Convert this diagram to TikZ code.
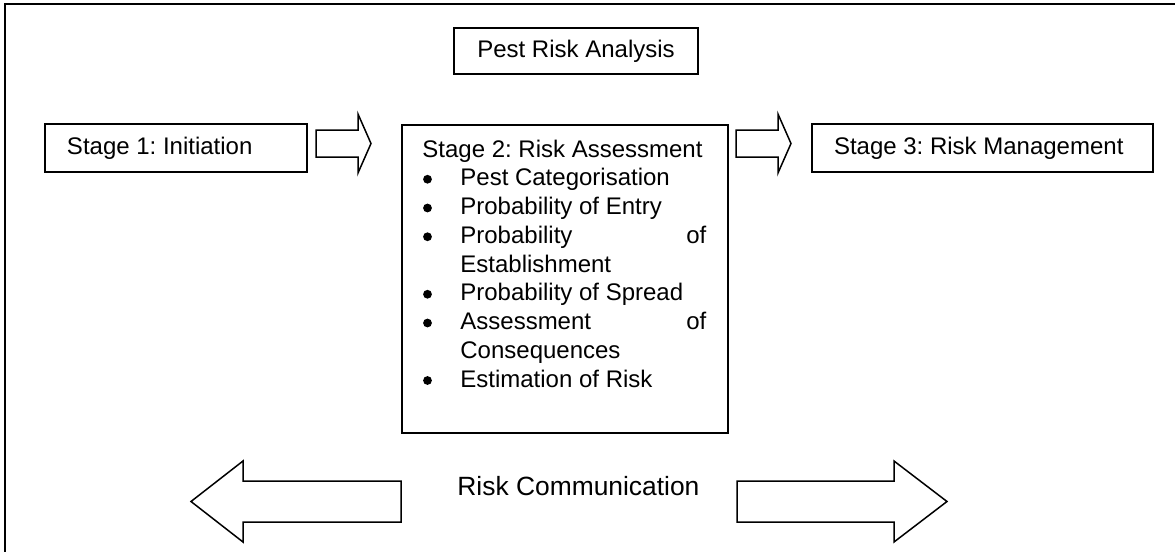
\documentclass[tikz,border=0pt]{standalone}
\usepackage{fontspec}
\setmainfont{Liberation Sans}
\frenchspacing
\begin{document}
\begin{tikzpicture}[x=0.5pt,y=-0.5pt,
  box/.style={draw=black,line width=1pt,inner sep=0pt,font=\fontsize{12}{14.4}\selectfont},
  lbox/.style={box,align=flush left,inner xsep=11pt,minimum height=24pt},
  txt/.style={inner sep=0pt,anchor=base west,font=\fontsize{12}{14.4}\selectfont},
  blockarrow/.style={draw=black,line width=0.75pt,line join=miter,fill=white},
  frame/.style={draw=black,line width=1.2pt}]
\useasboundingbox (0,0) rectangle (1175,552);
% outer frame (cut off at right and bottom)
\draw[frame] (5,560) -- (5,4) -- (1180,4);
% title
\node[box,minimum width=122pt,minimum height=23pt] (pra) at (576,51) {Pest Risk Analysis};
% stage 1
\node[lbox,anchor=west,text width=109pt] (s1) at (44,148) {Stage 1: Initiation};
% stage 2 box
\node[box,anchor=north west,minimum width=163pt,minimum height=154pt] (s2) at (401,124) {};
% stage 3
\node[lbox,anchor=west,text width=148.5pt] (s3) at (811,148) {Stage 3: Risk Management};
% small block arrows
\draw[blockarrow] (316,130) -- (358,130) -- (358,114) -- (371,143.5) -- (358,173) -- (358,157) -- (316,157) -- cycle;
\draw[blockarrow] (736,130) -- (778,130) -- (778,114) -- (791,143.5) -- (778,173) -- (778,157) -- (736,157) -- cycle;
% stage 2 contents
\node[txt] (t0) at (422,157) {Stage 2: Risk Assessment};
\node[txt] (t1) at (460,185.75) {Pest Categorisation};
\node[txt] (t2) at (460,214.5) {Probability of Entry};
\node[txt] (t3) at (460,243.25) {\hbox to 123pt{Probability\hfill of}};
\node[txt] (t4) at (460,272) {Establishment};
\node[txt] (t5) at (460,300.75) {Probability of Spread};
\node[txt] (t6) at (460,329.5) {\hbox to 123pt{Assessment\hfill of}};
\node[txt] (t7) at (460,358.25) {Consequences};
\node[txt] (t8) at (460,387) {Estimation of Risk};
\foreach \yy in {185.75,214.5,243.25,300.75,329.5,387}
  \fill (427.5,\yy-6.5) circle[radius=2.2pt];
% risk communication
\draw[blockarrow] (401,481) -- (243,481) -- (243,461) -- (191,501.5) -- (243,542) -- (243,522) -- (401,522) -- cycle;
\draw[blockarrow] (737,481) -- (894,481) -- (894,461) -- (947,501.5) -- (894,542) -- (894,522) -- (737,522) -- cycle;
\node[txt,font=\fontsize{13.2}{15.8}\selectfont] (rc) at (457,495) {Risk Communication};
\end{tikzpicture}
\end{document}
